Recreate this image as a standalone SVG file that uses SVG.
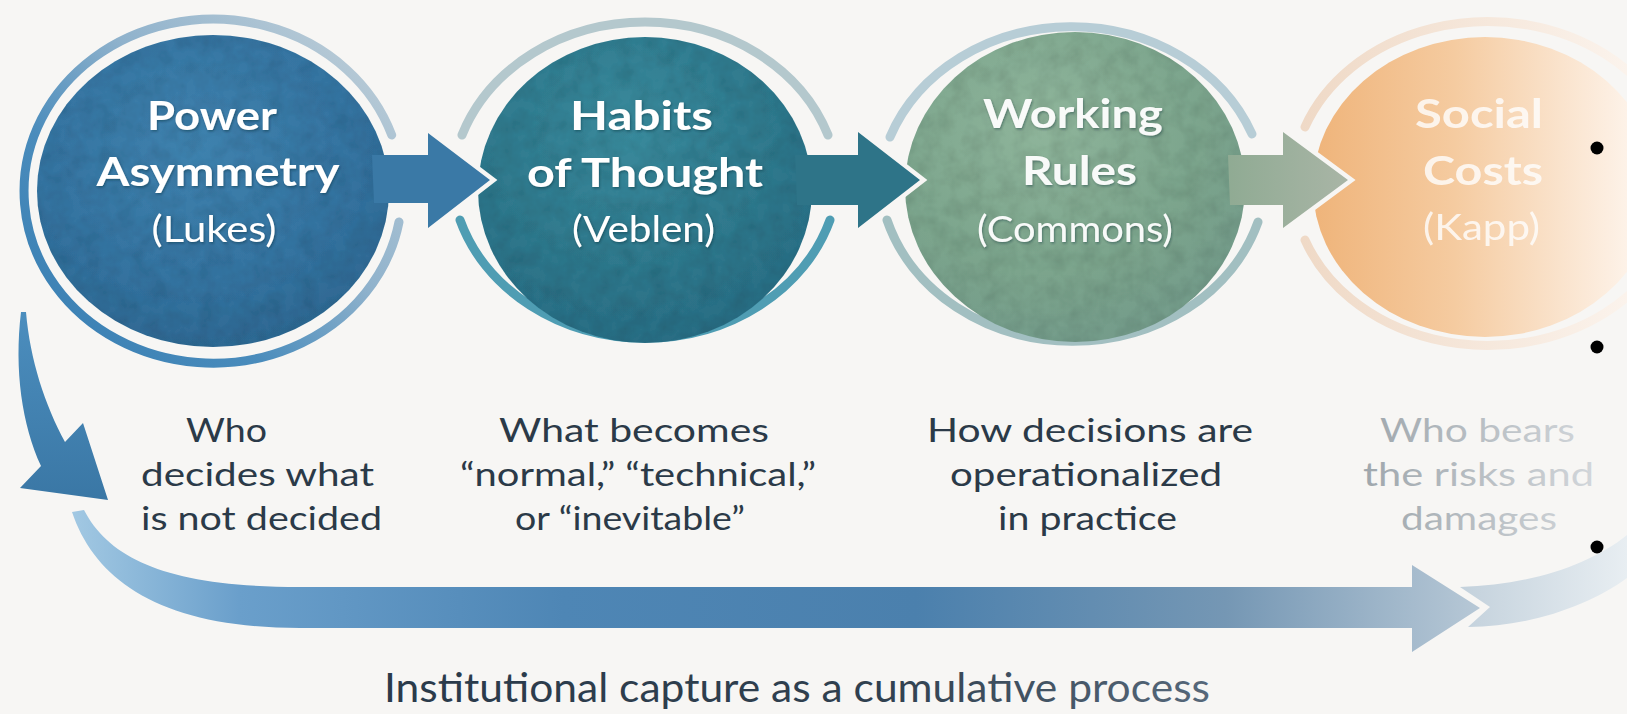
<svg xmlns="http://www.w3.org/2000/svg" width="1627" height="714" viewBox="0 0 1627 714">
<defs>
<style>
.ttl{font-family:Lato,"Open Sans","Liberation Sans",sans-serif;font-weight:700;font-size:41px;fill:#ffffff;text-anchor:middle}
.sub{font-family:Lato,"Open Sans","Liberation Sans",sans-serif;font-weight:400;font-size:37px;fill:#ffffff;text-anchor:middle}
.desc{font-family:Lato,"Open Sans","Liberation Sans",sans-serif;font-weight:400;font-size:32px;fill:#2b3a48;text-anchor:middle}
.big{font-family:Lato,"Open Sans","Liberation Sans",sans-serif;font-weight:400;font-size:40px;text-anchor:middle}
.ring{fill:none;stroke-width:9;stroke-linecap:round}
.halo{fill:none;stroke:#f7f6f4;stroke-width:9;stroke-linejoin:miter}
</style>
<filter id="shadow" x="-10%" y="-20%" width="120%" height="140%">
<feDropShadow dx="1" dy="1.5" stdDeviation="1.2" flood-color="#0a2030" flood-opacity="0.4"/>
</filter>
<filter id="grain" x="0" y="0" width="100%" height="100%">
<feTurbulence type="fractalNoise" baseFrequency="0.06" numOctaves="3" seed="7" result="n"/>
<feColorMatrix in="n" type="matrix" values="0 0 0 0 0  0 0 0 0 0  0 0 0 0 0  0 0 0 0.35 -0.12" result="a"/>
<feComposite in="a" in2="SourceGraphic" operator="in" result="spots"/>
<feMerge><feMergeNode in="SourceGraphic"/><feMergeNode in="spots"/></feMerge>
</filter>
<radialGradient id="c1" cx="0.45" cy="0.35" r="0.75">
<stop offset="0" stop-color="#3f82ae"/><stop offset="0.6" stop-color="#3573a0"/><stop offset="1" stop-color="#2c648c"/>
</radialGradient>
<radialGradient id="c2" cx="0.45" cy="0.3" r="0.75">
<stop offset="0" stop-color="#3a8a9c"/><stop offset="0.6" stop-color="#2f788c"/><stop offset="1" stop-color="#2a6b82"/>
</radialGradient>
<radialGradient id="c3" cx="0.4" cy="0.3" r="0.8">
<stop offset="0" stop-color="#8fb59b"/><stop offset="0.6" stop-color="#7ba48c"/><stop offset="1" stop-color="#72998a"/>
</radialGradient>
<linearGradient id="c4" gradientUnits="userSpaceOnUse" x1="1313" y1="0" x2="1627" y2="0">
<stop offset="0" stop-color="#efb47a"/><stop offset="0.45" stop-color="#f5cba0"/><stop offset="1" stop-color="#fdf2e8"/>
</linearGradient>
<linearGradient id="r1" gradientUnits="userSpaceOnUse" x1="380" y1="30" x2="80" y2="330">
<stop offset="0" stop-color="#c0cfd8"/><stop offset="0.45" stop-color="#8fb2cc"/><stop offset="0.75" stop-color="#4a8cbc"/><stop offset="1" stop-color="#3d82b5"/>
</linearGradient>
<linearGradient id="r4" gradientUnits="userSpaceOnUse" x1="1300" y1="0" x2="1627" y2="0">
<stop offset="0" stop-color="#efd9c6"/><stop offset="1" stop-color="#fbf3ec"/>
</linearGradient>
<linearGradient id="aC" gradientUnits="userSpaceOnUse" x1="1220" y1="0" x2="1348" y2="0">
<stop offset="0" stop-color="#8eaa92"/><stop offset="1" stop-color="#a9b5a6"/>
</linearGradient>
<linearGradient id="lArr" gradientUnits="userSpaceOnUse" x1="0" y1="312" x2="0" y2="500">
<stop offset="0" stop-color="#4c8ebe"/><stop offset="1" stop-color="#3a77a5"/>
</linearGradient>
<linearGradient id="bArr" gradientUnits="userSpaceOnUse" x1="70" y1="0" x2="1480" y2="0">
<stop offset="0" stop-color="#a3c9e3"/><stop offset="0.12" stop-color="#6a9fcb"/><stop offset="0.35" stop-color="#4e86b5"/><stop offset="0.6" stop-color="#4b80ad"/><stop offset="0.82" stop-color="#7597b4"/><stop offset="1" stop-color="#b7c8d6"/>
</linearGradient>
<linearGradient id="swoosh" gradientUnits="userSpaceOnUse" x1="1460" y1="0" x2="1627" y2="0">
<stop offset="0" stop-color="#c3d1dc"/><stop offset="1" stop-color="#e8eef2"/>
</linearGradient>
<linearGradient id="bigTxt" gradientUnits="userSpaceOnUse" x1="384" y1="0" x2="1210" y2="0">
<stop offset="0" stop-color="#2a3a4a"/><stop offset="0.6" stop-color="#30404f"/><stop offset="1" stop-color="#56687a"/>
</linearGradient>
<linearGradient id="col4" gradientUnits="userSpaceOnUse" x1="1360" y1="0" x2="1600" y2="0">
<stop offset="0" stop-color="#9ea6ac"/><stop offset="1" stop-color="#d3d7db"/>
</linearGradient>
</defs>

<rect width="1627" height="714" fill="#f7f6f4"/>

<g id="node-power">
<path class="ring" stroke="url(#r1)" d="M 391.7 135 A 189 172 0 1 0 399 222"/>
<ellipse cx="213" cy="191" rx="176" ry="156" fill="url(#c1)" filter="url(#grain)"/>
</g>

<g id="node-habits">
<path class="ring" stroke="#b4c8cd" d="M 462 135 A 194 169 0 0 1 828 135"/>
<path class="ring" stroke="#4f9db3" d="M 460 220 A 194 169 0 0 0 830 220"/>
<ellipse cx="645" cy="190" rx="167" ry="153" fill="url(#c2)" filter="url(#grain)"/>
</g>

<g id="node-working">
<path class="ring" stroke="#b7cdd6" d="M 890 137 A 194 170 0 0 1 1252 134"/>
<path class="ring" stroke="#a2bfc1" d="M 887 220 A 194 170 0 0 0 1258 222"/>
<ellipse cx="1075" cy="187" rx="170" ry="155" fill="url(#c3)" filter="url(#grain)"/>
</g>

<g id="node-social">
<path class="ring" stroke="url(#r4)" d="M 1305 127 A 195 162 0 1 1 1305 240"/>
<ellipse cx="1485" cy="187" rx="172" ry="150" fill="url(#c4)"/>
</g>

<g id="connectors">
<path class="halo" d="M 385 155 L 428 155 L 428 133 L 490 180 L 428 228 L 428 203 L 389 203"/>
<path fill="#3a79a6" d="M 372 155 L 428 155 L 428 133 L 490 180 L 428 228 L 428 203 L 374 203 Z"/>
<path class="halo" d="M 808 155 L 858 155 L 858 132 L 920 180 L 858 228 L 858 205 L 811 205"/>
<path fill="#2e7488" d="M 795 155 L 858 155 L 858 132 L 920 180 L 858 228 L 858 205 L 797 205 Z"/>
<path class="halo" d="M 1242 155 L 1283 155 L 1283 132 L 1348 180 L 1283 228 L 1283 205 L 1244 205"/>
<path fill="url(#aC)" d="M 1228 155 L 1283 155 L 1283 132 L 1348 180 L 1283 228 L 1283 205 L 1230 205 Z"/>
<path fill="url(#lArr)" d="M 21 312 C 14 370 22 425 41 466 L 20 488 L 108 500 L 83 423 L 65 442 C 45 405 30 360 26 312 Z"/>
<path fill="url(#bArr)" d="M 84 510 C 110 560 170 587 300 587 L 1412 587 L 1412 565 L 1480 608 L 1412 652 L 1412 628 L 300 628 C 160 628 95 580 72 512 Z"/>
<path fill="url(#swoosh)" d="M 1460 587 C 1530 585 1590 565 1627 535 L 1627 578 C 1590 605 1530 627 1468 627 L 1490 607 Z"/>
</g>

<g id="labels-power" filter="url(#shadow)">
<text class="ttl" x="212" y="130" textLength="130" lengthAdjust="spacingAndGlyphs">Power</text>
<text class="ttl" x="218" y="186" textLength="243" lengthAdjust="spacingAndGlyphs">Asymmetry</text>
<text class="sub" x="214" y="242" textLength="125" lengthAdjust="spacingAndGlyphs">(Lukes)</text>
</g>
<g id="labels-habits" filter="url(#shadow)">
<text class="ttl" x="641.5" y="130" textLength="143" lengthAdjust="spacingAndGlyphs">Habits</text>
<text class="ttl" x="645" y="187" textLength="236" lengthAdjust="spacingAndGlyphs">of Thought</text>
<text class="sub" x="643.5" y="242" textLength="143" lengthAdjust="spacingAndGlyphs">(Veblen)</text>
</g>
<g id="labels-working" filter="url(#shadow)" opacity="0.95">
<text class="ttl" x="1073" y="128" textLength="180" lengthAdjust="spacingAndGlyphs">Working</text>
<text class="ttl" x="1079.5" y="185" textLength="115" lengthAdjust="spacingAndGlyphs">Rules</text>
<text class="sub" x="1075" y="242" textLength="196" lengthAdjust="spacingAndGlyphs">(Commons)</text>
</g>
<g id="labels-social" opacity="0.8">
<text class="ttl" x="1479" y="128" textLength="128" lengthAdjust="spacingAndGlyphs">Social</text>
<text class="ttl" x="1483" y="185" textLength="120" lengthAdjust="spacingAndGlyphs">Costs</text>
<text class="sub" x="1481.5" y="240" textLength="117" lengthAdjust="spacingAndGlyphs">(Kapp)</text>
</g>

<g id="descriptions">
<text class="desc" x="226.5" y="442" textLength="81" lengthAdjust="spacingAndGlyphs">Who</text>
<text class="desc" x="257.5" y="486" textLength="233" lengthAdjust="spacingAndGlyphs">decides what</text>
<text class="desc" x="261.5" y="530" textLength="241" lengthAdjust="spacingAndGlyphs">is not decided</text>
<text class="desc" x="634" y="442" textLength="270" lengthAdjust="spacingAndGlyphs">What becomes</text>
<text class="desc" x="638" y="486" textLength="356" lengthAdjust="spacingAndGlyphs">“normal,” “technical,”</text>
<text class="desc" x="630" y="530" textLength="230" lengthAdjust="spacingAndGlyphs">or “inevitable”</text>
<text class="desc" x="1090" y="442" textLength="326" lengthAdjust="spacingAndGlyphs">How decisions are</text>
<text class="desc" x="1086" y="486" textLength="272" lengthAdjust="spacingAndGlyphs">operationalized</text>
<text class="desc" x="1087.5" y="530" textLength="179" lengthAdjust="spacingAndGlyphs">in practice</text>
<text class="desc" x="1477.5" y="442" textLength="195" lengthAdjust="spacingAndGlyphs" style="fill:url(#col4)">Who bears</text>
<text class="desc" x="1478.5" y="486" textLength="231" lengthAdjust="spacingAndGlyphs" style="fill:url(#col4)">the risks and</text>
<text class="desc" x="1479" y="530" textLength="156" lengthAdjust="spacingAndGlyphs" style="fill:url(#col4)">damages</text>
</g>

<text id="caption" class="big" x="797" y="702" textLength="826" lengthAdjust="spacingAndGlyphs" fill="url(#bigTxt)">Institutional capture as a cumulative process</text>

<g id="bullets" fill="#000000">
<circle cx="1597" cy="148" r="6.5"/>
<circle cx="1597" cy="347" r="6.5"/>
<circle cx="1597" cy="547" r="6.5"/>
</g>
</svg>
